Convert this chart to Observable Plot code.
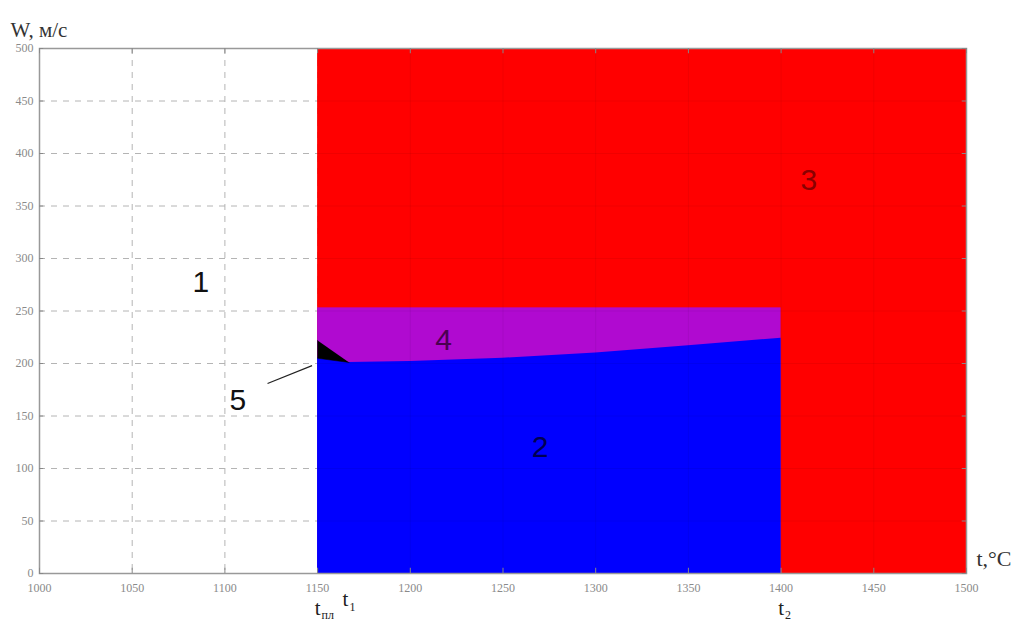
<!DOCTYPE html>
<html><head><meta charset="utf-8">
<script src="https://cdn.jsdelivr.net/npm/d3@7"></script>
<script src="https://cdn.jsdelivr.net/npm/@observablehq/plot@0.6"></script>
<style>body{margin:0;background:#fff}#c{width:1011px;height:630px}</style>
</head><body><div id="c"></div>
<script>
// Data
const xTicks = [1000,1050,1100,1150,1200,1250,1300,1350,1400,1450,1500];
const yTicks = [0,50,100,150,200,250,300,350,400,450,500];
// Zone 3 (red): t from t_pl to 1500 over the full W range
const zone3 = {t1:1150, t2:1500, w1:0, w2:500};
// Zone 4 (magenta): between t_pl and t2 up to W≈253
const zone4 = {t1:1150, t2:1400, w1:0, w2:253};
// Zone 2 (blue): upper boundary curve
const boundaryT = [1150, 1167, 1200, 1250, 1300, 1350, 1400];
const boundaryW = [205, 201, 202, 205, 210, 217, 224];
// Zone 5 (black triangle)
const zone5T = [1150, 1150, 1167];
const zone5W = [222, 205, 201];
// Zone labels
const zoneNames = ["1","2","3","4","5"];
const zoneT = [1087, 1270, 1415, 1218, 1107];
const zoneW = [277, 120, 374, 222, 165];
const zoneColor = ["#111","#000050","#8a0000","#4a0050","#111"];
// leader line for 5
const leaderT = [1123, 1147];
const leaderW = [181, 198];
// special temperatures (t_пл, t_1, t_2)
const tMarkT = [1150, 1165, 1400];
const tMarkSub = ["пл", "1", "2"];
const tMarkW = [-33, -25, -33];

const blueArea = boundaryT.map((t,i)=>({t, w:boundaryW[i]}));
const tri = zone5T.map((t,i)=>({t, w:zone5W[i]}));
const labels = zoneNames.map((n,i)=>({n, t:zoneT[i], w:zoneW[i], c:zoneColor[i]}));
const tMarks = tMarkT.map((t,i)=>({t, w:tMarkW[i], sub:tMarkSub[i]}));
const innerX = xTicks.slice(1,-1);
const innerY = yTicks.slice(1,-1);
const overlayX = xTicks.filter(t=>t>1150 && t<1500);
const grid = "#b4b4b4";
const serif = "Liberation Serif, serif";

const plot = Plot.plot({
  width:1011, height:630,
  marginLeft:39, marginRight:45, marginTop:48, marginBottom:57,
  style:{fontFamily:serif, background:"#fff", overflow:"visible"},
  x:{domain:[1000,1500], label:null},
  y:{domain:[0,500], label:null},
  marks:[
    Plot.ruleX(innerX, {stroke:grid, strokeDasharray:"6,6", strokeWidth:1}),
    Plot.ruleY(innerY, {stroke:grid, strokeDasharray:"6,6", strokeWidth:1}),
    Plot.rect([zone3], {x1:"t1", x2:"t2", y1:"w1", y2:"w2", fill:"#ff0000"}),
    Plot.rect([zone4], {x1:"t1", x2:"t2", y1:"w1", y2:"w2", fill:"#b00ad0"}),
    Plot.areaY(blueArea, {x:"t", y:"w", fill:"#0000ff"}),
    Plot.line(tri, {x:"t", y:"w", fill:"#000", stroke:"#000", strokeWidth:0.5}),
    Plot.ruleX(overlayX, {y1:0, y2:500, stroke:"#000", strokeOpacity:0.06, strokeWidth:1}),
    Plot.ruleY(innerY, {x1:1150, x2:1500, stroke:"#000", strokeOpacity:0.06, strokeWidth:1}),
    Plot.frame({stroke:"#999", strokeWidth:1.5}),
    Plot.ruleX(xTicks, {y1:0, y2:5, stroke:"#888"}),
    Plot.ruleX(xTicks, {y1:495, y2:500, stroke:"#888"}),
    Plot.ruleY(yTicks, {x1:1000, x2:1002.3, stroke:"#888"}),
    Plot.ruleY(yTicks, {x1:1497.7, x2:1500, stroke:"#888"}),
    Plot.axisX({ticks:xTicks, tickFormat:"d", tickSize:0, tickPadding:10, fontSize:12, fill:"#8a8a8a", label:null}),
    Plot.axisY({ticks:yTicks, tickFormat:"d", tickSize:0, tickPadding:6, fontSize:12, fill:"#8a8a8a", label:null}),
    Plot.link([0], {x1:()=>leaderT[0], y1:()=>leaderW[0], x2:()=>leaderT[1], y2:()=>leaderW[1], stroke:"#222", strokeWidth:1.2}),
    Plot.text(labels, {x:"t", y:"w", text:"n", fill:"c", fontSize:30, fontFamily:"Liberation Sans, Arial, sans-serif"}),
    Plot.text(["W, м/с"], {frameAnchor:"top-left", dx:-29, dy:-26, textAnchor:"start", fontSize:21, fill:"#333", fontFamily:serif}),
    Plot.text(["t,°C"], {frameAnchor:"bottom-right", dx:45, dy:-8, textAnchor:"end", fontSize:22, fill:"#333", fontFamily:serif}),
    Plot.text(tMarks, {x:"t", y:"w", text:()=>"t", fontSize:21, fill:"#222", fontFamily:serif}),
    Plot.text(tMarks, {x:"t", y:"w", text:"sub", dx:4, dy:7, textAnchor:"start", fontSize:12, fill:"#222", fontFamily:serif})
  ]
});
document.getElementById("c").append(plot);
</script></body></html>
